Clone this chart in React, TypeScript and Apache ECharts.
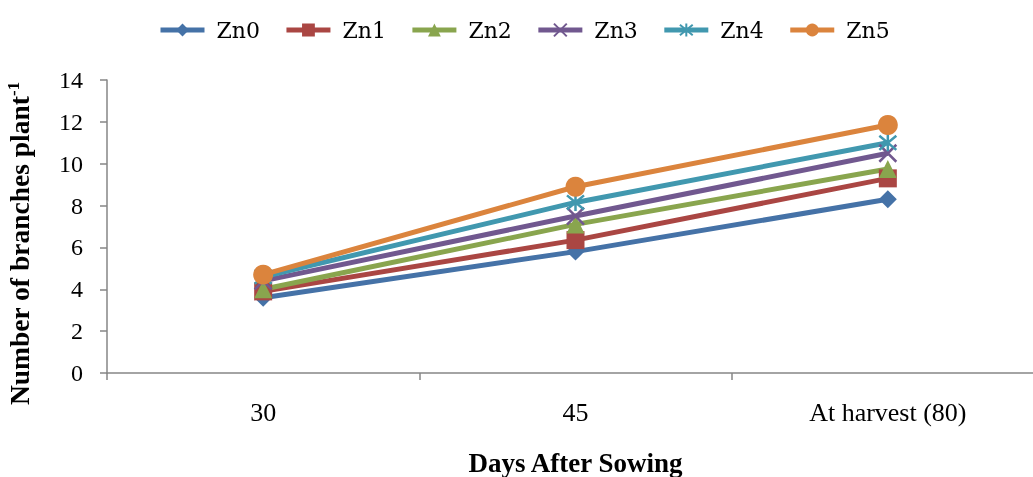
import React, { useEffect, useRef } from "react";
import * as echarts from "echarts";

const categories = ["30", "45", "At harvest (80)"];
const seriesNames = ["Zn0", "Zn1", "Zn2", "Zn3", "Zn4", "Zn5"];
const zn0 = [3.6, 5.8, 8.3];
const zn1 = [3.9, 6.35, 9.3];
const zn2 = [4.0, 7.1, 9.75];
const zn3 = [4.4, 7.5, 10.5];
const zn4 = [4.6, 8.15, 11.0];
const zn5 = [4.7, 8.9, 11.85];
const yTicks = { min: 0, max: 14, interval: 2 };

const colors = ["#4572A7", "#AA4643", "#89A54E", "#71588F", "#4198AF", "#DB843D"];
const XPATH = "path://M0,0L20,20M20,0L0,20";
const STARPATH = "path://M0,0L20,20M20,0L0,20M10,-2L10,22";
const symbols = ["diamond", "rect", "triangle", XPATH, STARPATH, "circle"];
const sizes = [18, 18, 18, 17, 17, 20];

export default function App() {
  const ref = useRef<HTMLDivElement>(null);
  useEffect(() => {
    const chart = echarts.init(ref.current!, null, { renderer: "svg" });
    const data = [zn0, zn1, zn2, zn3, zn4, zn5];
    const font = "'Liberation Serif', 'Times New Roman', serif";
    chart.setOption({
      animation: false,
      textStyle: { fontFamily: font },
      legend: {
        top: 14,
        left: 153,
        itemWidth: 44,
        itemHeight: 16,
        itemGap: 24,
        data: seriesNames,
        lineStyle: { width: 5 },
        textStyle: { fontSize: 22, color: "#000", fontFamily: "'DejaVu Serif', serif", padding: [0, 0, 0, 7] },
      },
      grid: { left: 107, top: 80, right: -11, bottom: 104, outerBoundsMode: "none" },
      xAxis: {
        type: "category",
        data: categories,
        boundaryGap: true,
        name: "Days After Sowing",
        nameLocation: "middle",
        nameGap: 76,
        nameTextStyle: { fontSize: 27, fontWeight: "bold", color: "#000", fontFamily: font },
        axisLine: { lineStyle: { color: "#868686", width: 1.5 } },
        axisTick: { show: true, length: 7, alignWithLabel: false, lineStyle: { color: "#868686", width: 1.5 } },
        axisLabel: { fontSize: 26, color: "#000", margin: 26 },
      },
      yAxis: {
        type: "value",
        min: yTicks.min,
        max: yTicks.max,
        interval: yTicks.interval,
        name: "Number of branches plant{sup|-1}",
        nameLocation: "middle",
        nameGap: 73,
        nameTextStyle: {
          fontSize: 27.5,
          fontWeight: "bold",
          color: "#000",
          fontFamily: font,
          padding: [0, 34, 0, 0],
          rich: { sup: { fontSize: 17, fontWeight: "bold", verticalAlign: "top", padding: [0, 0, 12, 0], fontFamily: font, color: "#000" } },
        },
        splitLine: { show: false },
        axisLine: { show: true, lineStyle: { color: "#868686", width: 1.5 } },
        axisTick: { show: true, length: 7, lineStyle: { color: "#868686", width: 1.5 } },
        axisLabel: { fontSize: 24, color: "#000", margin: 24 },
      },
      series: seriesNames.map((n, i) => ({
        name: n,
        type: "line",
        data: data[i],
        symbol: symbols[i],
        symbolSize: sizes[i],
        color: colors[i],
        lineStyle: { width: 5, color: colors[i] },
        itemStyle:
          i === 3 || i === 4
            ? { color: "transparent", borderColor: colors[i], borderWidth: 2.5 }
            : { color: colors[i] },
      })),
    });
    return () => chart.dispose();
  }, []);
  return <div ref={ref} style={{ position: "fixed", left: 0, top: 0, width: 1033, height: 477 }} />;
}
